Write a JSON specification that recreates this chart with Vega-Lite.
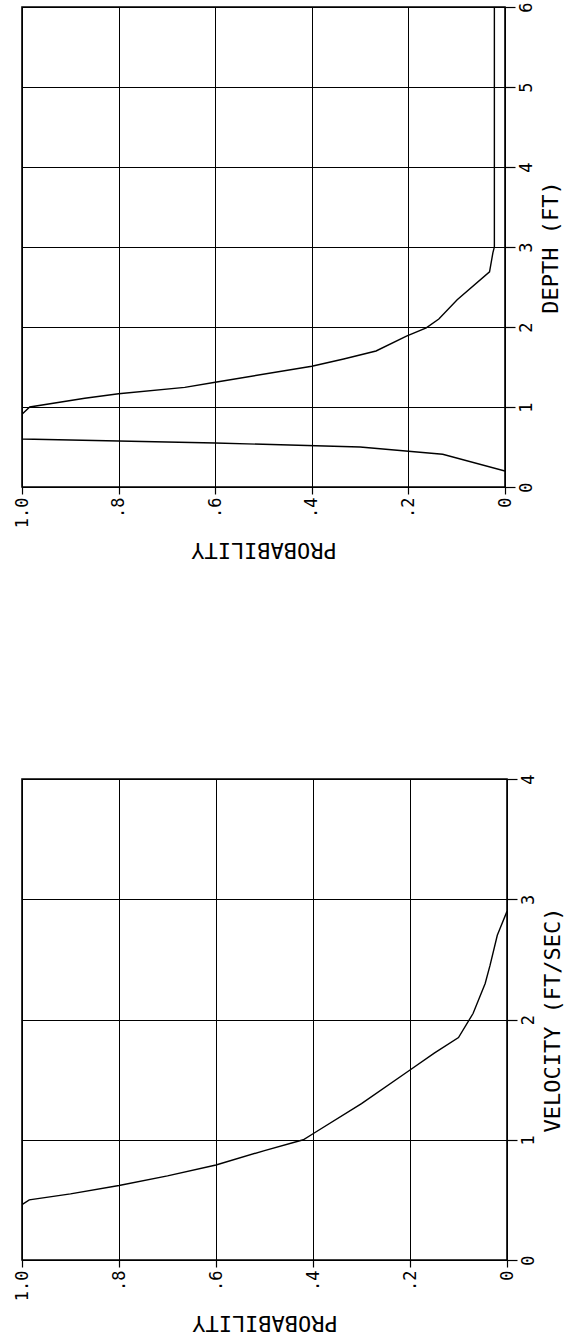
{
  "$schema": "https://vega.github.io/schema/vega-lite/v6.json",
  "padding": {"left": 12, "top": 1, "right": 0, "bottom": 0},
  "background": "white",
  "spacing": 211,
  "datasets": {
    "depth": [
      {"i": 1, "prob": 0.0, "depth": 0.20},
      {"i": 2, "prob": 0.129, "depth": 0.41},
      {"i": 3, "prob": 0.30, "depth": 0.50},
      {"i": 4, "prob": 0.60, "depth": 0.55},
      {"i": 5, "prob": 1.0, "depth": 0.60},
      {"i": 6, "prob": 1.0, "depth": 0.91},
      {"i": 7, "prob": 0.984, "depth": 1.0},
      {"i": 8, "prob": 0.87, "depth": 1.11},
      {"i": 9, "prob": 0.80, "depth": 1.165},
      {"i": 10, "prob": 0.663, "depth": 1.245},
      {"i": 11, "prob": 0.60, "depth": 1.31},
      {"i": 12, "prob": 0.40, "depth": 1.51},
      {"i": 13, "prob": 0.334, "depth": 1.60},
      {"i": 14, "prob": 0.267, "depth": 1.70},
      {"i": 15, "prob": 0.204, "depth": 1.885},
      {"i": 16, "prob": 0.163, "depth": 1.99},
      {"i": 17, "prob": 0.137, "depth": 2.10},
      {"i": 18, "prob": 0.099, "depth": 2.34},
      {"i": 19, "prob": 0.032, "depth": 2.69},
      {"i": 20, "prob": 0.025, "depth": 2.93},
      {"i": 21, "prob": 0.022, "depth": 3.0},
      {"i": 22, "prob": 0.022, "depth": 6.0}
    ],
    "velocity": [
      {"i": 1, "prob": 1.0, "vel": 0.0},
      {"i": 2, "prob": 1.0, "vel": 0.46},
      {"i": 3, "prob": 0.985, "vel": 0.50},
      {"i": 4, "prob": 0.90, "vel": 0.55},
      {"i": 5, "prob": 0.80, "vel": 0.62},
      {"i": 6, "prob": 0.70, "vel": 0.70},
      {"i": 7, "prob": 0.60, "vel": 0.79},
      {"i": 8, "prob": 0.50, "vel": 0.91},
      {"i": 9, "prob": 0.42, "vel": 1.0},
      {"i": 10, "prob": 0.40, "vel": 1.05},
      {"i": 11, "prob": 0.30, "vel": 1.30},
      {"i": 12, "prob": 0.20, "vel": 1.58},
      {"i": 13, "prob": 0.15, "vel": 1.72},
      {"i": 14, "prob": 0.10, "vel": 1.85},
      {"i": 15, "prob": 0.07, "vel": 2.05},
      {"i": 16, "prob": 0.045, "vel": 2.30},
      {"i": 17, "prob": 0.035, "vel": 2.45},
      {"i": 18, "prob": 0.02, "vel": 2.70},
      {"i": 19, "prob": 0.015, "vel": 2.75},
      {"i": 20, "prob": 0.0, "vel": 2.90}
    ]
  },
  "vconcat": [
    {
      "width": 483,
      "height": 480,
      "data": {"name": "depth"},
      "mark": {"type": "line", "color": "black", "strokeWidth": 1.4, "clip": true},
      "encoding": {
        "order": {"field": "i", "type": "quantitative"},
        "x": {
          "field": "prob", "type": "quantitative",
          "scale": {"domain": [0, 1], "reverse": true, "nice": false, "zero": false},
          "axis": {
            "orient": "bottom", "values": [0, 0.2, 0.4, 0.6, 0.8, 1],
            "labelExpr": "datum.value == 1 ? '1.0' : datum.value == 0 ? '0' : '.' + format(datum.value * 10, 'd')",
            "labelAngle": 270, "labelAlign": "right", "labelBaseline": "middle",
            "title": "PROBABILITY", "titleAngle": 180, "titleBaseline": "bottom", "titlePadding": 10
          }
        },
        "y": {
          "field": "depth", "type": "quantitative",
          "scale": {"domain": [0, 6], "nice": false, "zero": false},
          "axis": {
            "orient": "right", "values": [0, 1, 2, 3, 4, 5, 6],
            "labelAngle": 270, "labelAlign": "center", "labelBaseline": "top",
            "title": "DEPTH (FT)", "titleAngle": 270, "titleBaseline": "top", "titlePadding": 6
          }
        }
      }
    },
    {
      "width": 485,
      "height": 481,
      "data": {"name": "velocity"},
      "mark": {"type": "line", "color": "black", "strokeWidth": 1.4, "clip": true},
      "encoding": {
        "order": {"field": "i", "type": "quantitative"},
        "x": {
          "field": "prob", "type": "quantitative",
          "scale": {"domain": [0, 1], "reverse": true, "nice": false, "zero": false},
          "axis": {
            "orient": "bottom", "values": [0, 0.2, 0.4, 0.6, 0.8, 1],
            "labelExpr": "datum.value == 1 ? '1.0' : datum.value == 0 ? '0' : '.' + format(datum.value * 10, 'd')",
            "labelAngle": 270, "labelAlign": "right", "labelBaseline": "middle",
            "title": "PROBABILITY", "titleAngle": 180, "titleBaseline": "bottom", "titlePadding": 10
          }
        },
        "y": {
          "field": "vel", "type": "quantitative",
          "scale": {"domain": [0, 4], "nice": false, "zero": false},
          "axis": {
            "orient": "right", "values": [0, 1, 2, 3, 4],
            "labelAngle": 270, "labelAlign": "center", "labelBaseline": "top",
            "title": "VELOCITY (FT/SEC)", "titleAngle": 270, "titleBaseline": "top", "titlePadding": 6
          }
        }
      }
    }
  ],
  "config": {
    "font": "DejaVu Sans Mono",
    "view": {"stroke": "black", "strokeWidth": 1.6},
    "axis": {
      "grid": true, "gridColor": "black", "gridOpacity": 1, "gridWidth": 1,
      "domain": false,
      "tickColor": "black", "tickWidth": 1.2,
      "labelFont": "DejaVu Sans Mono", "labelFontSize": 17, "labelColor": "black", "labelPadding": 3,
      "titleFont": "DejaVu Sans Mono", "titleFontSize": 22, "titleFontWeight": "normal", "titleColor": "black"
    },
    "axisX": {"tickSize": 7},
    "axisY": {"tickSize": 10}
  }
}
